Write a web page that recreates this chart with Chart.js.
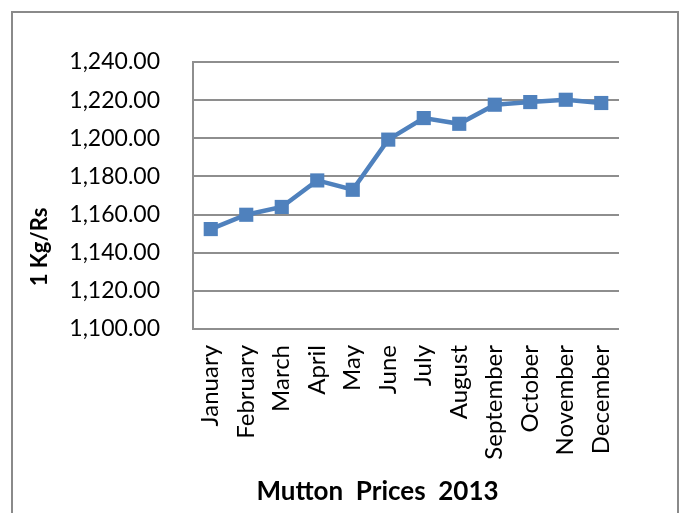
<!DOCTYPE html>
<html>
<head>
<meta charset="utf-8">
<script src="https://cdn.jsdelivr.net/npm/chart.js@4.4.1/dist/chart.umd.min.js"></script>
<style>
  html, body { margin: 0; padding: 0; background: #fff; overflow: hidden; }
  #wrap { position: relative; width: 683px; height: 513px; }
  #frame { position: absolute; left: 11px; top: 11px; width: 664px; height: 600px; border: 2px solid #8a8a8a; }
  #chart { position: absolute; left: 0; top: 0; }
</style>
</head>
<body>
<div id="wrap">
  <div id="frame"></div>
  <canvas id="chart" width="683" height="513"></canvas>
</div>
<script>
const months = ["January", "February", "March", "April", "May", "June",
  "July", "August", "September", "October", "November", "December"]
const prices = [1152.4, 1159.9, 1164.0, 1177.9, 1173.0, 1199.3,
  1210.6, 1207.6, 1217.6, 1219.0, 1220.2, 1218.5]
const yTicks = [1100, 1120, 1140, 1160, 1180, 1200, 1220, 1240]
const yTitle = "1 Kg/Rs"
const chartTitle = "Mutton  Prices  2013"

const blue = "#4F81BD"
const grey = "#8e8e8e"

// the titles in the original are not centred on the plot, so nudge them
const titlesPlugin = {
  id: "titles",
  afterLayout(chart) {
    const tb = chart.titleBlock
    tb.left = 136
    tb.right = 619
    tb.width = tb.right - tb.left
  },
  afterDraw(chart) {
    const ctx = chart.ctx
    ctx.save()
    ctx.translate(40, 247)
    ctx.rotate(-Math.PI / 2)
    ctx.font = "bold 22px Lato"
    ctx.fillStyle = "#000"
    ctx.textAlign = "center"
    ctx.textBaseline = "middle"
    ctx.fillText(yTitle, 0, 0)
    ctx.restore()
  }
}

const ctx = document.getElementById("chart").getContext("2d")

new Chart(ctx, {
  type: "line",
  data: {
    labels: months,
    datasets: [{
      data: prices,
      borderColor: blue,
      backgroundColor: blue,
      borderWidth: 4.5,
      pointStyle: "rect",
      pointRadius: 10,
      pointHoverRadius: 10,
      pointBorderWidth: 0,
      tension: 0
    }]
  },
  options: {
    responsive: false,
    animation: false,
    layout: { padding: { left: 0, right: 64, top: 62, bottom: 7 } },
    plugins: {
      legend: { display: false },
      tooltip: { enabled: false },
      title: {
        display: true,
        text: chartTitle,
        position: "bottom",
        color: "#000",
        font: { family: "Lato", size: 26, weight: "bold", lineHeight: 1.1 },
        padding: 0
      }
    },
    scales: {
      x: {
        offset: true,
        grid: { display: false, drawTicks: false },
        border: { display: false },
        ticks: {
          autoSkip: false,
          minRotation: 90,
          maxRotation: 90,
          padding: 16,
          color: "#000",
          font: { family: "Lato", size: 24 }
        },
        afterFit(scale) { scale.height = 148.4 }
      },
      y: {
        min: 1100,
        max: 1240,
        grid: { color: grey, lineWidth: 2, drawTicks: false },
        border: { display: true, color: grey, width: 2 },
        afterBuildTicks(scale) { scale.ticks = yTicks.map(v => ({ value: v })) },
        ticks: {
          padding: 33,
          color: "#000",
          font: { family: "Lato", size: 23 },
          callback: v => v.toLocaleString("en-US", { minimumFractionDigits: 2, maximumFractionDigits: 2 })
        },
        afterFit(scale) { scale.width = 193 }
      }
    }
  },
  plugins: [titlesPlugin]
})
</script>
</body>
</html>
